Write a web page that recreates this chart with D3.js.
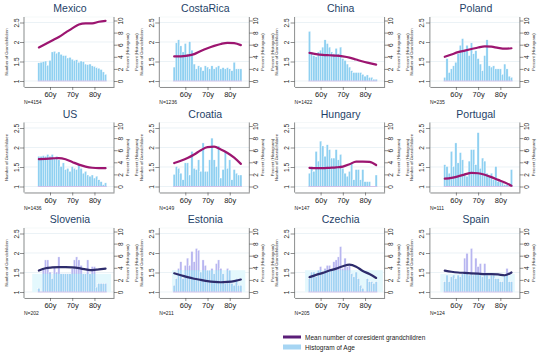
<!DOCTYPE html>
<html>
<head>
<meta charset="utf-8">
<script src="https://cdn.jsdelivr.net/npm/d3@7"></script>
<style>
  body { margin: 0; background: #fff; }
  svg { display: block; }
  text { font-family: "Liberation Sans", Arial, sans-serif; }
</style>
</head>
<body>
<script>
// age bins (one year each) and the ages where the smoothed mean is read
var ages = d3.range(55, 86)
var meanAges = [55, 58, 61, 64, 67, 70, 73, 76, 79, 82, 85]

var countries = ["Mexico", "CostaRica", "China", "Poland",
                 "US", "Croatia", "Hungary", "Portugal",
                 "Slovenia", "Estonia", "Czechia", "Spain"]
var sampleN = [4154, 1236, 1422, 235, 1436, 149, 147, 111, 202, 211, 205, 124]

// percent of sample per age bin (histogram, right axis)
var histPct = [
  [3.0,3.1,3.2,3.3,2.6,3.4,4.8,4.9,4.6,4.8,4.4,4.2,4.2,3.8,3.9,3.6,3.4,3.5,3.1,3.3,3.2,2.8,2.7,2.8,2.5,2.4,2.2,2.1,1.9,1.5,1.1],
  [2.3,6.3,6.8,5.8,4.8,6.2,4.5,6.5,5.1,2.8,2.0,2.5,2.3,1.7,2.5,2.3,2.0,2.5,2.0,2.3,2.5,2.0,2.2,2.0,2.2,2.0,1.7,3.1,2.0,2.0,2.0],
  [8.2,4.8,4.2,4.0,4.8,5.1,5.6,6.8,6.2,5.6,4.8,4.5,5.4,4.5,5.6,3.7,3.4,2.8,2.3,1.7,1.4,1.4,1.4,1.4,1.1,0.8,1.0,0.6,0.6,0.3,0.3],
  [0.6,3.7,1.4,2.0,2.5,3.1,4.5,5.9,7.0,5.0,5.9,4.2,6.3,4.5,5.0,3.7,2.8,1.7,4.2,6.8,2.5,2.3,2.5,2.0,2.0,2.0,1.1,2.8,2.0,0.8,0.6],
  [5.0,5.0,5.1,5.0,5.3,5.0,5.3,4.7,5.0,4.4,3.3,3.9,2.8,3.0,2.5,3.3,3.0,2.8,3.6,3.0,2.2,2.5,1.9,1.7,1.9,1.4,1.7,1.1,0.8,0.3,0.6],
  [2.0,3.3,3.0,2.2,1.1,3.9,3.9,1.9,5.8,3.0,2.8,4.4,2.5,7.2,2.5,2.5,4.4,8.0,4.4,3.3,6.7,1.4,2.8,5.8,3.0,4.4,1.1,2.8,2.2,1.9,1.9],
  [2.2,3.3,2.5,5.8,4.2,7.5,6.7,5.0,6.9,6.1,4.7,4.7,6.1,4.4,5.3,3.0,2.2,1.7,2.5,3.9,1.1,2.8,2.8,1.1,2.8,0.8,0.8,0.8,0,0,1.9],
  [3.6,3.3,2.2,5.8,3.3,7.2,3.9,5.6,4.4,2.2,1.7,4.2,6.1,6.1,3.6,8.9,3.0,4.7,4.2,2.2,1.7,2.2,1.1,3.3,0.8,0.8,0.6,0.3,0.3,0,2.8],
  [0.6,0,3.9,5.3,5.3,3.3,2.2,4.2,3.3,5.8,3.0,3.0,3.0,3.0,3.0,3.9,5.3,5.8,5.3,4.4,3.0,3.0,5.3,3.0,4.2,4.2,0.8,1.4,1.4,1.4,1.4],
  [1.1,2.2,3.9,5.0,2.2,4.4,5.6,4.4,6.7,5.0,7.2,6.9,3.3,5.3,4.4,3.6,3.6,3.9,3.0,4.7,5.3,3.9,3.0,1.4,3.9,3.6,1.4,1.1,2.2,1.1,1.1],
  [2.2,3.3,3.3,2.5,3.6,4.2,3.3,3.9,4.4,4.4,3.6,5.0,5.3,5.8,7.5,3.9,5.6,4.2,4.4,3.0,2.5,3.3,2.2,1.1,0.6,0,2.2,1.7,1.7,1.4,1.7],
  [1.7,2.8,1.7,2.5,2.8,2.2,2.8,2.5,3.0,5.6,6.4,2.8,7.2,2.8,5.6,4.2,4.7,2.5,4.7,2.8,2.2,2.8,2.8,2.2,2.2,1.7,1.7,2.8,3.9,1.7,1.7]
]

// smoothed mean number of coresident grandchildren (left axis)
var meanGrand = [
  [1.86,1.95,2.04,2.13,2.24,2.35,2.45,2.48,2.48,2.52,2.54],
  [1.63,1.63,1.65,1.69,1.77,1.84,1.90,1.95,1.98,1.97,1.92],
  [1.72,1.69,1.67,1.66,1.65,1.63,1.60,1.55,1.50,1.46,1.42],
  [1.62,1.68,1.74,1.78,1.82,1.86,1.89,1.88,1.85,1.83,1.84],
  [1.70,1.71,1.72,1.73,1.70,1.63,1.56,1.51,1.48,1.47,1.47],
  [1.60,1.66,1.73,1.82,1.93,2.01,2.02,1.95,1.86,1.74,1.58],
  [1.48,1.47,1.47,1.48,1.49,1.51,1.57,1.64,1.64,1.63,1.55],
  [1.20,1.22,1.26,1.31,1.35,1.34,1.30,1.24,1.17,1.10,1.02],
  [1.55,1.61,1.63,1.64,1.64,1.63,1.61,1.58,1.56,1.58,1.60],
  [1.48,1.43,1.38,1.34,1.31,1.28,1.26,1.25,1.26,1.28,1.32],
  [1.38,1.44,1.49,1.55,1.60,1.66,1.70,1.65,1.54,1.46,1.36],
  [1.55,1.52,1.50,1.49,1.48,1.47,1.46,1.46,1.45,1.43,1.50]
]

// pale background block seen behind the bottom-row histograms [from age, to age, percent]
var shadeBlock = [null, null, null, null, null, null, null, null,
  [52, 87.5, 3.0], [54, 87, 3.6], [53, 88, 3.6], [53, 86.5, 3.0]]

var yLeftTicks = [1, 1.5, 2, 2.5]
var yRightTicks = [0, 2, 4, 6, 8, 10]
var xTicks = [60, 70, 80]

var W = 550, H = 353
var colStep = 135.3, rowStep = 105.5

var svg = d3.select("body").append("svg")
    .attr("width", W).attr("height", H)

// scales shared by every panel (panel-local pixels)
var x = d3.scaleLinear().domain([48.3, 88.8]).range([24, 114])
var yL = d3.scaleLinear().domain([1, 2.5]).range([81, 22.5])
var yR = d3.scaleLinear().domain([0, 10]).range([81, 20.5])
var plotTop = 17, plotBottom = 87

var line = d3.line()
    .x(d => x(d[0]))
    .y(d => yL(d[1]))
    .curve(d3.curveMonotoneX)

var panels = svg.selectAll("g.panel")
    .data(countries)
    .join("g")
    .attr("class", "panel")
    .attr("transform", (d, i) => "translate(" + (i % 4) * colStep + "," + Math.floor(i / 4) * rowStep + ")")

panels.each(function (name, i) {
    var g = d3.select(this)
    var row = Math.floor(i / 4), col = i % 4
    var bottomRow = row == 2

    // plot region + grid
    g.append("rect")
        .attr("x", x.range()[0]).attr("y", plotTop)
        .attr("width", x.range()[1] - x.range()[0]).attr("height", plotBottom - plotTop)
        .attr("fill", "#fff").attr("stroke", "#eef3f6").attr("stroke-width", 0.6)

    g.append("g").selectAll("line")
        .data(yLeftTicks)
        .join("line")
        .attr("x1", x.range()[0]).attr("x2", x.range()[1])
        .attr("y1", d => yL(d)).attr("y2", d => yL(d))
        .attr("stroke", "#e3edf2").attr("stroke-width", 0.7)

    // histogram
    var bins = ages.map((a, k) => ({ age: a, pct: histPct[i][k] })).filter(d => d.pct > 0)
    var barTop = bottomRow ? "#b8b6f0" : "#8fd0f1"

    if (shadeBlock[i]) {
        var s = shadeBlock[i]
        g.append("rect")
            .attr("x", x(s[0])).attr("width", x(s[1]) - x(s[0]))
            .attr("y", yR(s[2])).attr("height", yR(0) - yR(s[2]))
            .attr("fill", "#e4f8fd")
        g.append("clipPath").attr("id", "clip" + i)
            .append("rect")
            .attr("x", x(s[0])).attr("width", x(s[1]) - x(s[0]))
            .attr("y", yR(s[2])).attr("height", yR(0) - yR(s[2]))
    }

    g.append("g").selectAll("rect")
        .data(bins)
        .join("rect")
        .attr("x", d => x(d.age - 0.5))
        .attr("width", d => x(d.age + 0.5) - x(d.age - 0.5))
        .attr("y", d => yR(d.pct))
        .attr("height", d => yR(0) - yR(d.pct))
        .attr("fill", barTop)
        .attr("stroke", "#fff").attr("stroke-width", 0.35)

    if (shadeBlock[i]) {
        g.append("g").attr("clip-path", "url(#clip" + i + ")")
            .selectAll("rect")
            .data(bins)
            .join("rect")
            .attr("x", d => x(d.age - 0.5))
            .attr("width", d => x(d.age + 0.5) - x(d.age - 0.5))
            .attr("y", d => yR(d.pct))
            .attr("height", d => yR(0) - yR(d.pct))
            .attr("fill", "#a2d3f3")
            .attr("stroke", "#fff").attr("stroke-width", 0.35)
    }

    // faint baseline under the bars
    g.append("line")
        .attr("x1", x(54.5)).attr("x2", x(85.5))
        .attr("y1", yR(0)).attr("y2", yR(0))
        .attr("stroke", "#cdb6e6").attr("stroke-width", 0.8)

    // mean line
    g.append("path")
        .datum(meanAges.map((a, k) => [a, meanGrand[i][k]]))
        .attr("d", line)
        .attr("fill", "none")
        .attr("stroke", bottomRow ? "#2e2c6c" : "#9c1570")
        .attr("stroke-width", 2.2)
        .attr("stroke-linecap", "round")

    // left axis
    var axL = g.append("g")
        .attr("transform", "translate(" + x.range()[0] + ",0)")
        .call(d3.axisLeft(yL).tickValues(yLeftTicks).tickFormat(d3.format("~g")).tickSize(4).tickSizeOuter(0))
    axL.select(".domain").remove()
    axL.append("line").attr("y1", plotTop).attr("y2", plotBottom).attr("stroke", "#444").attr("stroke-width", 0.6)
    axL.selectAll(".tick line").attr("stroke", "#444").attr("stroke-width", 0.6)
    axL.selectAll(".tick text")
        .attr("x", 0).attr("y", -5.5).attr("dy", 0)
        .attr("transform", "rotate(-90)")
        .attr("text-anchor", "middle")
        .attr("font-size", 6.5).attr("fill", "#222")

    // right axis
    var axR = g.append("g")
        .attr("transform", "translate(" + x.range()[1] + ",0)")
        .call(d3.axisRight(yR).tickValues(yRightTicks).tickSize(3.5).tickSizeOuter(0))
    axR.select(".domain").remove()
    axR.append("line").attr("y1", plotTop).attr("y2", plotBottom).attr("stroke", "#444").attr("stroke-width", 0.6)
    axR.selectAll(".tick line").attr("stroke", "#444").attr("stroke-width", 0.6)
    axR.selectAll(".tick text")
        .attr("x", 0).attr("y", 8.8).attr("dy", 0)
        .attr("transform", "rotate(-90)")
        .attr("text-anchor", "middle")
        .attr("font-size", 6.5).attr("fill", "#222")

    // bottom axis
    var axB = g.append("g")
        .attr("transform", "translate(0," + plotBottom + ")")
        .call(d3.axisBottom(x).tickValues(xTicks).tickFormat(d => d + "y").tickSize(3).tickSizeOuter(0))
    axB.select(".domain").attr("stroke", "#444").attr("stroke-width", 0.6)
    axB.selectAll(".tick line").attr("stroke", "#444").attr("stroke-width", 0.6)
    axB.selectAll(".tick text")
        .attr("y", 5).attr("dy", "0.71em")
        .attr("font-size", 7.5).attr("fill", "#222")

    // axis titles
    var midY = (plotTop + plotBottom) / 2
    if (col > 0) {
        g.append("text")
            .attr("transform", "translate(3," + midY + ") rotate(-90)")
            .attr("text-anchor", "middle").attr("font-size", 4.2).attr("fill", "#333")
            .text("Percent (Histogram)")
    }
    g.append("text")
        .attr("transform", "translate(" + (col > 0 ? 7.5 : 8) + "," + midY + ") rotate(-90)")
        .attr("text-anchor", "middle").attr("font-size", 4.2).attr("fill", "#333")
        .text("Number of Grandchildren")
    g.append("text")
        .attr("transform", "translate(129," + midY + ") rotate(-90)")
        .attr("text-anchor", "middle").attr("font-size", 4.2).attr("fill", "#333")
        .text("Percent (Histogram)")

    // title and sample size
    g.append("text")
        .attr("x", 70).attr("y", 12)
        .attr("text-anchor", "middle")
        .attr("font-size", 10.5).attr("fill", "#1e3f68")
        .text(name)

    g.append("text")
        .attr("x", 24).attr("y", 104)
        .attr("font-size", 5).attr("fill", "#222")
        .text("N=" + sampleN[i])
})

// legend
var legend = svg.append("g").attr("transform", "translate(283,0)")
legend.append("line")
    .attr("x1", 0).attr("x2", 18).attr("y1", 337).attr("y2", 337)
    .attr("stroke", "#5b1e78").attr("stroke-width", 3)
legend.append("text")
    .attr("x", 22).attr("y", 339.5)
    .attr("font-size", 6.5).attr("fill", "#222")
    .text("Mean number of coresident grandchildren")
legend.append("rect")
    .attr("x", 0).attr("y", 344.5).attr("width", 18).attr("height", 5)
    .attr("fill", "#a6d5f3")
legend.append("text")
    .attr("x", 22).attr("y", 349.5)
    .attr("font-size", 6.5).attr("fill", "#222")
    .text("Histogram of Age")
</script>
</body>
</html>
